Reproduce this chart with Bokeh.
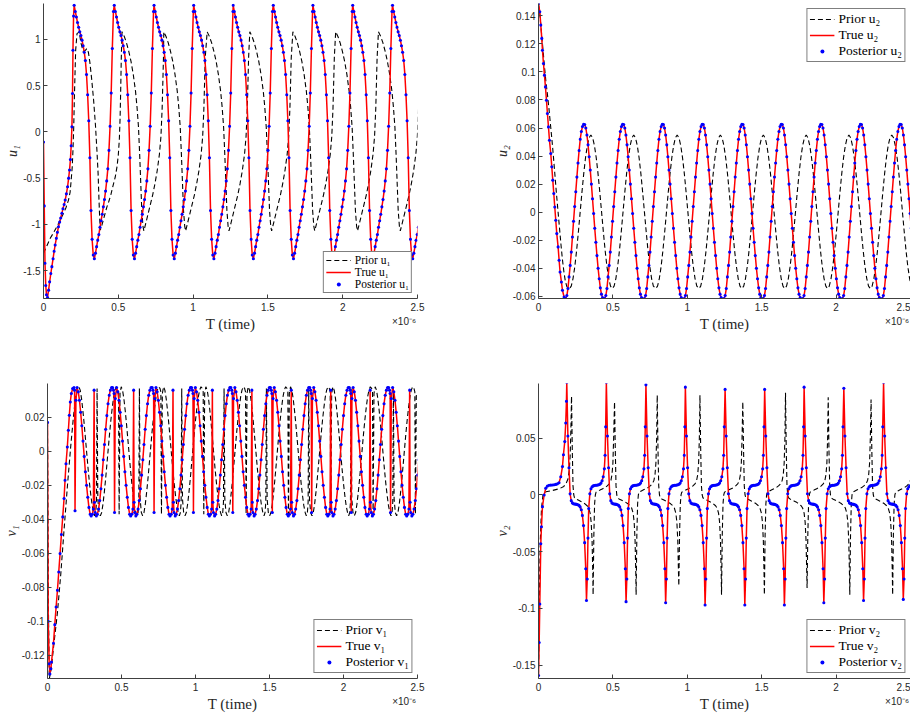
from bokeh.plotting import figure
from bokeh.layouts import column, row
from bokeh.models import FixedTicker, LinearAxis, Range1d
from bokeh.embed import file_html
from bokeh.resources import INLINE

# ---------------- shared axis data ----------------
X_TICKS = [0, 0.5, 1, 1.5, 2, 2.5]
X_TICK_LABELS = ["0", "0.5", "1", "1.5", "2", "2.5"]
X_EXPONENT_TEXT = "×10⁻⁶"

# ---------------- u1 ----------------
u1_true_init_t = [0, 0.005, 0.010, 0.015, 0.020, 0.027, 0.034, 0.041, 0.049, 0.056, 0.064, 0.071, 0.078, 0.086,
                  0.093, 0.100, 0.108, 0.115, 0.123, 0.130, 0.138, 0.145, 0.153, 0.161, 0.168, 0.174, 0.180,
                  0.185, 0.190, 0.194, 0.197, 0.201]
u1_true_init_v = [-0.11, -0.80, -1.42, -1.66, -1.76, -1.79, -1.71, -1.62, -1.53, -1.456, -1.37, -1.29, -1.222,
                  -1.15, -1.085, -1.025, -0.975, -0.93, -0.88, -0.83, -0.785, -0.737, -0.67, -0.593, -0.50,
                  -0.413, -0.30, -0.15, 0.054, 0.414, 0.881, 1.25]
u1_true_cycle_dt = [0.0, 0.0075, 0.015, 0.0225, 0.030, 0.0375, 0.045, 0.0525, 0.060, 0.0675, 0.075, 0.0825,
                    0.090, 0.0975, 0.105, 0.1125, 0.120, 0.1275, 0.135, 0.1425, 0.150, 0.1575, 0.165, 0.1725,
                    0.180, 0.1875, 0.195, 0.2025, 0.210, 0.2175, 0.225, 0.2325, 0.240, 0.2475, 0.255, 0.2625]
u1_true_cycle_v = [1.367, 1.30, 1.24, 1.18, 1.13, 1.08, 1.04, 0.99, 0.93, 0.86, 0.77, 0.62, 0.40, 0.12, -0.28,
                   -0.85, -1.16, -1.33, -1.37, -1.31, -1.24, -1.17, -1.11, -1.03, -0.96, -0.89, -0.81, -0.73,
                   -0.64, -0.53, -0.40, -0.20, 0.06, 0.42, 0.90, 1.30]
u1_true_peaks = [0.205, 0.473, 0.739, 1.004, 1.268, 1.536, 1.801, 2.067, 2.333]

u1_prior_init_t = [0, 0.02, 0.045, 0.067, 0.089, 0.11, 0.134, 0.150, 0.167, 0.178, 0.185, 0.192, 0.197, 0.202,
                   0.206, 0.211, 0.215, 0.224, 0.239, 0.25, 0.265, 0.28, 0.29, 0.30, 0.31, 0.322, 0.335, 0.347,
                   0.357, 0.365, 0.371, 0.376, 0.38, 0.39, 0.40, 0.412, 0.424, 0.437, 0.45, 0.465, 0.48, 0.492,
                   0.50, 0.507, 0.512, 0.516, 0.520]
u1_prior_init_v = [-1.312, -1.24, -1.15, -1.09, -1.025, -0.96, -0.88, -0.82, -0.737, -0.65, -0.521, -0.38,
                   -0.197, 0.05, 0.341, 0.65, 0.881, 1.061, 1.079, 0.96, 0.87, 0.88, 0.90, 0.86, 0.75, 0.57,
                   0.34, 0.08, -0.197, -0.45, -0.737, -0.95, -1.06, -1.01, -0.95, -0.88, -0.81, -0.75, -0.68,
                   -0.58, -0.485, -0.37, -0.25, -0.08, 0.15, 0.45, 0.80]
u1_prior_cycle_dt = [0, 0.015, 0.03, 0.045, 0.06, 0.075, 0.09, 0.10, 0.11, 0.118, 0.125, 0.132, 0.140, 0.146,
                     0.16, 0.175, 0.19, 0.205, 0.22, 0.235, 0.25, 0.26, 0.268, 0.273, 0.277]
u1_prior_cycle_v = [1.08, 1.03, 0.96, 0.87, 0.76, 0.62, 0.44, 0.27, 0.05, -0.25, -0.55, -0.85, -1.02, -1.07,
                    -0.98, -0.88, -0.78, -0.68, -0.56, -0.42, -0.24, -0.05, 0.25, 0.55, 0.80]
u1_prior_peaks = [0.525, 0.804, 1.094, 1.379, 1.667, 1.953, 2.239]

# ---------------- u2 ----------------
u2_true_init_t = [0, 0.0087, 0.0154, 0.022, 0.0266, 0.0333, 0.04, 0.0467, 0.0535, 0.06, 0.067, 0.0736, 0.0825,
                  0.0893, 0.096, 0.1027, 0.1094, 0.116, 0.1228, 0.1318, 0.1385, 0.145, 0.154, 0.161, 0.172]
u2_true_init_v = [0.1488, 0.1429, 0.1334, 0.1239, 0.1155, 0.106, 0.0977, 0.0893, 0.0798, 0.0703, 0.0608,
                  0.0513, 0.0418, 0.0323, 0.0228, 0.0133, 0.0037, -0.0058, -0.0153, -0.0248, -0.0343, -0.0427,
                  -0.0498, -0.0557, -0.0605]
u2_true_cycle_dt = [0.0, 0.0075, 0.015, 0.0225, 0.030, 0.0375, 0.045, 0.0525, 0.060, 0.0675, 0.075, 0.0825,
                    0.090, 0.0975, 0.105, 0.1125, 0.120, 0.1275, 0.135, 0.1425, 0.150, 0.1575, 0.165, 0.1725,
                    0.180, 0.1875, 0.195, 0.2025, 0.210, 0.2175, 0.225, 0.2325, 0.240, 0.2475, 0.255]
u2_true_cycle_v = [-0.0617, -0.0595, -0.0545, -0.0462, -0.0380, -0.0285, -0.0177, -0.0065, 0.0040, 0.0145,
                   0.0250, 0.0350, 0.0440, 0.0520, 0.0575, 0.0610, 0.0627, 0.0625, 0.0600, 0.0550, 0.0480,
                   0.0395, 0.0300, 0.0200, 0.0095, -0.0010, -0.0115, -0.0215, -0.0310, -0.0400, -0.0475,
                   -0.0540, -0.0585, -0.0610, -0.0620]
u2_true_troughs = [0.183, 0.445, 0.712, 0.980, 1.247, 1.511, 1.777, 2.043, 2.310]

u2_prior_init_t = [0, 0.01, 0.02, 0.03, 0.04, 0.05, 0.06, 0.07, 0.08, 0.09, 0.10, 0.11, 0.12, 0.13, 0.14, 0.15,
                   0.16, 0.17, 0.18, 0.19, 0.20]
u2_prior_init_v = [0.148, 0.140, 0.128, 0.116, 0.104, 0.093, 0.084, 0.074, 0.063, 0.052, 0.040, 0.027, 0.014,
                   0.002, -0.010, -0.022, -0.033, -0.042, -0.049, -0.053, -0.0545]
u2_prior_cycle_dt = [0.0, 0.012, 0.024, 0.036, 0.048, 0.060, 0.072, 0.084, 0.096, 0.108, 0.120, 0.132, 0.144,
                     0.156, 0.168, 0.180, 0.192, 0.204, 0.216, 0.228, 0.240, 0.252, 0.264, 0.276]
u2_prior_cycle_v = [-0.0545, -0.0528, -0.0474, -0.0388, -0.0275, -0.0142, 0.0000, 0.0142, 0.0275, 0.0388,
                    0.0474, 0.0530, 0.0550, 0.0530, 0.0474, 0.0388, 0.0275, 0.0142, 0.0000, -0.0142, -0.0275,
                    -0.0388, -0.0474, -0.0528]
u2_prior_troughs = [0.208, 0.496, 0.788, 1.078, 1.367, 1.655, 1.942, 2.230]

# ---------------- v1 ----------------
v1_true_init_t = [0, 0.0047, 0.0114, 0.016, 0.0226, 0.027, 0.0404, 0.0493, 0.0582, 0.0672, 0.076, 0.085, 0.094,
                  0.103, 0.112, 0.1185, 0.125, 0.134, 0.141, 0.1475, 0.154, 0.161, 0.170, 0.179, 0.183, 0.186,
                  0.192]
v1_true_init_v = [0.017, -0.10, -0.125, -0.131, -0.128, -0.124, -0.113, -0.102, -0.0916, -0.0818, -0.071,
                  -0.0602, -0.049, -0.0386, -0.0278, -0.017, -0.0073, 0.0025, 0.0124, 0.0212, 0.029, 0.034,
                  0.0369, 0.0375, 0.036, -0.035, 0.030]
v1_true_cycle_dt = [0, 0.008, 0.016, 0.024, 0.032, 0.040, 0.048, 0.056, 0.064, 0.072, 0.080, 0.088, 0.095,
                    0.103, 0.110, 0.115, 0.118, 0.122, 0.130, 0.137, 0.145, 0.153, 0.161, 0.169, 0.177, 0.185,
                    0.193, 0.201, 0.209, 0.217, 0.225, 0.233, 0.240, 0.246, 0.250, 0.253, 0.258]
v1_true_cycle_v = [0.0375, 0.035, 0.030, 0.023, 0.015, 0.006, -0.003, -0.012, -0.020, -0.027, -0.033, -0.037,
                   -0.038, -0.037, -0.034, 0.036, -0.030, -0.036, -0.038, -0.037, -0.034, -0.029, -0.022,
                   -0.014, -0.005, 0.004, 0.013, 0.021, 0.028, 0.033, 0.036, 0.0375, 0.0375, 0.036, 0.034,
                   -0.036, 0.031]
v1_true_starts = [0.200, 0.467, 0.733, 0.999, 1.266, 1.532, 1.799, 2.065, 2.332]

v1_prior_init_t = [0, 0.006, 0.012, 0.025, 0.045, 0.067, 0.09, 0.112, 0.135, 0.157, 0.175, 0.19, 0.2, 0.207]
v1_prior_init_v = [0.017, -0.09, -0.134, -0.128, -0.112, -0.095, -0.072, -0.046, -0.02, 0.003, 0.02, 0.032,
                   0.037, 0.038]
v1_prior_cycle_dt = [0, 0.009, 0.018, 0.027, 0.036, 0.045, 0.054, 0.063, 0.072, 0.081, 0.090, 0.099, 0.107,
                     0.114, 0.119, 0.123, 0.128, 0.136, 0.145, 0.154, 0.163, 0.172, 0.181, 0.190, 0.199, 0.208,
                     0.217, 0.226, 0.235, 0.244, 0.253, 0.262, 0.268, 0.272, 0.278]
v1_prior_cycle_v = [0.038, 0.036, 0.031, 0.024, 0.016, 0.007, -0.002, -0.011, -0.019, -0.026, -0.032, -0.036,
                    -0.038, -0.036, -0.030, 0.037, -0.028, -0.036, -0.038, -0.036, -0.031, -0.024, -0.016,
                    -0.007, 0.002, 0.011, 0.019, 0.026, 0.032, 0.036, 0.038, 0.037, 0.035, -0.037, 0.034]
v1_prior_starts = [0.212, 0.498, 0.784, 1.070, 1.356, 1.642, 1.928, 2.214]

# ---------------- v2 ----------------
v2_true_init_t = [0, 0.0045, 0.0087, 0.0154, 0.0199, 0.0266, 0.0378, 0.049, 0.06, 0.0714, 0.083, 0.094, 0.105,
                  0.116, 0.127, 0.138, 0.1497, 0.161, 0.1676, 0.1765, 0.183, 0.1877]
v2_true_init_v = [-0.159, -0.13, -0.096, -0.043, -0.028, -0.0103, 0.0, 0.006, 0.0078, 0.0085, 0.0087, 0.0088,
                  0.0090, 0.0093, 0.0098, 0.0108, 0.016, 0.025, 0.0354, 0.047, 0.0634, 0.0826]
v2_true_cycle_dt = [0.000, 0.0075, 0.015, 0.0225, 0.030, 0.0375, 0.045, 0.0525, 0.060, 0.0675, 0.075, 0.0825,
                    0.090, 0.0975, 0.105, 0.1125, 0.120, 0.1275, 0.1325, 0.1375, 0.1425, 0.1475, 0.1550,
                    0.1625, 0.170, 0.1775, 0.185, 0.1925, 0.200, 0.2075, 0.215, 0.2225, 0.230, 0.2375, 0.245,
                    0.2525, 0.2575, 0.2615]
v2_true_cycle_v = [0.097, 0.052, 0.024, 0.001, -0.0050, -0.0070, -0.0078, -0.0080, -0.0081, -0.0083, -0.0086,
                   -0.0092, -0.0105, -0.0130, -0.0180, -0.0270, -0.0420, -0.0650, -0.0950, -0.0740, -0.0380,
                   -0.0120, 0.0010, 0.0055, 0.0072, 0.0080, 0.0083, 0.0085, 0.0086, 0.0088, 0.0090, 0.0095,
                   0.0105, 0.0125, 0.0160, 0.0230, 0.0350, 0.0600]
v2_true_peaks = [0.190, 0.456, 0.722, 0.987, 1.254, 1.520, 1.785, 2.052, 2.319]
v2_true_peak_vals = [0.099, 0.099, 0.097, 0.095, 0.093, 0.093, 0.095, 0.094, 0.099]
v2_true_trough_vals = [-0.093, -0.094, -0.095, -0.097, -0.097, -0.097, -0.095, -0.093, -0.092]

v2_prior_init_t = [0, 0.005, 0.012, 0.02, 0.03, 0.05, 0.08, 0.11, 0.14, 0.17, 0.185, 0.198, 0.207, 0.213, 0.218]
v2_prior_init_v = [-0.159, -0.10, -0.04, -0.012, 0.0, 0.0028, 0.0035, 0.0045, 0.0055, 0.0075, 0.0100, 0.0140,
                   0.022, 0.035, 0.060]
v2_prior_cycle_dt = [0.000, 0.005, 0.010, 0.015, 0.020, 0.030, 0.045, 0.060, 0.075, 0.090, 0.105, 0.115, 0.125,
                     0.132, 0.138, 0.143, 0.145, 0.150, 0.155, 0.160, 0.165, 0.180, 0.195, 0.210, 0.225, 0.240,
                     0.255, 0.265, 0.272, 0.278, 0.283]
v2_prior_cycle_v = [0.087, 0.040, 0.008, 0.000, -0.0025, -0.0035, -0.0045, -0.0055, -0.0065, -0.0078, -0.0095,
                    -0.0115, -0.016, -0.024, -0.040, -0.070, -0.087, -0.035, -0.008, 0.000, 0.0025, 0.0035,
                    0.0045, 0.0055, 0.0065, 0.0080, 0.0100, 0.0130, 0.018, 0.028, 0.050]
v2_prior_peaks = [0.222, 0.511, 0.798, 1.085, 1.373, 1.660, 1.947, 2.235]
v2_prior_peak_vals = [0.087, 0.082, 0.088, 0.088, 0.082, 0.090, 0.086, 0.084]
v2_prior_trough_vals = [-0.088, -0.088, -0.080, -0.088, -0.088, -0.082, -0.088, -0.088]

# ---------------- styling constants ----------------
AXIS_COLOR = "#404040"
TEXT_COLOR = "#262626"
SERIF = "Liberation Serif"
SANS = "Liberation Sans"


def build(init_t, init_v, cyc_dt, cyc_v, starts, replace=None):
    """Concatenate the initial transient with the read cycle placed at each read start time."""
    t = list(init_t)
    v = list(init_v)
    for k, s in enumerate(starts):
        vals = list(cyc_v)
        if replace:
            for idx, per_cycle in replace.items():
                vals[idx] = per_cycle[k]
        for d, val in zip(cyc_dt, vals):
            t.append(s + d)
            v.append(val)
    return t, v


def make_fig(width, height, mbl, mbr, mbt, mbb, yr, yticks, ylabels, ylab):
    p = figure(width=width, height=height, x_range=Range1d(0, 2.5), y_range=Range1d(*yr),
               output_backend="svg", toolbar_location=None,
               min_border_left=mbl, min_border_right=mbr, min_border_top=mbt, min_border_bottom=mbb)
    p.grid.visible = False
    p.outline_line_color = None
    p.background_fill_color = "white"
    p.border_fill_color = "white"
    for ax in (p.xaxis[0], p.yaxis[0]):
        ax.major_tick_in = 4
        ax.major_tick_out = 0
        ax.minor_tick_line_color = None
        ax.axis_line_color = AXIS_COLOR
        ax.major_tick_line_color = AXIS_COLOR
        ax.major_label_text_font = SANS
        ax.major_label_text_font_size = "10px"
        ax.major_label_text_color = TEXT_COLOR
    p.xaxis.ticker = FixedTicker(ticks=X_TICKS)
    p.xaxis.major_label_overrides = dict(zip(X_TICKS, X_TICK_LABELS))
    p.xaxis.major_label_standoff = 4
    p.yaxis.ticker = FixedTicker(ticks=yticks)
    p.yaxis.major_label_overrides = dict(zip(yticks, ylabels))
    p.yaxis.major_label_standoff = 3
    p.yaxis.axis_label = ylab
    p.yaxis.axis_label_text_font = SERIF
    p.yaxis.axis_label_text_color = TEXT_COLOR
    p.yaxis.axis_label_text_font_size = "14px"
    p.yaxis.axis_label_text_font_style = "italic"
    p.yaxis.axis_label_standoff = 0

    # second (line-less) axis under the tick labels: carries the exponent note and the axis title
    note_x = 2.41
    ax2 = LinearAxis(ticker=FixedTicker(ticks=[note_x]),
                     major_label_overrides={note_x: X_EXPONENT_TEXT},
                     axis_line_color=None, major_tick_line_color=None, minor_tick_line_color=None,
                     major_tick_in=0, major_tick_out=0, major_label_standoff=2,
                     major_label_text_font=SANS, major_label_text_font_size="10px",
                     major_label_text_color=TEXT_COLOR,
                     axis_label="T (time)", axis_label_text_font=SERIF,
                     axis_label_text_font_size="15px", axis_label_text_font_style="normal",
                     axis_label_text_color=TEXT_COLOR, axis_label_standoff=-14)
    p.add_layout(ax2, "below")
    return p


def draw(p, prior, true, post, name, loc, font_px, spacing):
    p.line(prior[0], prior[1], line_color="black", line_dash="5 3", line_width=1.1,
           legend_label="Prior " + name)
    p.line(true[0], true[1], line_color="#ff0000", line_width=1.5, legend_label="True " + name)
    p.scatter(post[0], post[1], marker="circle", size=3.1, fill_color="#0000ff", line_color=None,
              legend_label="Posterior " + name)
    lg = p.legend[0]
    lg.location = loc
    lg.margin = 5
    lg.padding = 2
    lg.spacing = spacing
    lg.glyph_width = 25
    lg.glyph_height = 10
    lg.label_height = 10
    lg.label_standoff = 4
    lg.label_text_font = SERIF
    lg.label_text_font_size = font_px
    lg.label_text_line_height = 0.8
    lg.label_text_color = "black"
    lg.border_line_color = "black"
    lg.border_line_width = 1
    lg.background_fill_color = "white"
    lg.background_fill_alpha = 1.0


# ---------------- build series ----------------
u1_true = build(u1_true_init_t, u1_true_init_v, u1_true_cycle_dt, u1_true_cycle_v, u1_true_peaks)
u1_prior = build(u1_prior_init_t, u1_prior_init_v, u1_prior_cycle_dt, u1_prior_cycle_v, u1_prior_peaks)
u2_true = build(u2_true_init_t, u2_true_init_v, u2_true_cycle_dt, u2_true_cycle_v, u2_true_troughs)
u2_prior = build(u2_prior_init_t, u2_prior_init_v, u2_prior_cycle_dt, u2_prior_cycle_v, u2_prior_troughs)
v1_true = build(v1_true_init_t, v1_true_init_v, v1_true_cycle_dt, v1_true_cycle_v, v1_true_starts)
v1_prior = build(v1_prior_init_t, v1_prior_init_v, v1_prior_cycle_dt, v1_prior_cycle_v, v1_prior_starts)
v2_true = build(v2_true_init_t, v2_true_init_v, v2_true_cycle_dt, v2_true_cycle_v, v2_true_peaks,
                replace={0: v2_true_peak_vals, 18: v2_true_trough_vals})
v2_prior = build(v2_prior_init_t, v2_prior_init_v, v2_prior_cycle_dt, v2_prior_cycle_v, v2_prior_peaks,
                 replace={0: v2_prior_peak_vals, 16: v2_prior_trough_vals})

# ---------------- figures ----------------
p1 = make_fig(460, 340, 43, 43, 3, 42, (-1.80, 1.386), [-1.5, -1, -0.5, 0, 0.5, 1],
              ["-1.5", "-1", "-0.5", "0", "0.5", "1"], "u₁")
draw(p1, u1_prior, u1_true, u1_true, "u₁", "bottom_right", "11.5px", -3)

p2 = make_fig(450, 340, 78, 0, 3, 42, (-0.0616, 0.1488),
              [-0.06, -0.04, -0.02, 0, 0.02, 0.04, 0.06, 0.08, 0.1, 0.12, 0.14],
              ["-0.06", "-0.04", "-0.02", "0", "0.02", "0.04", "0.06", "0.08", "0.1", "0.12", "0.14"], "u₂")
draw(p2, u2_prior, u2_true, u2_true, "u₂", "top_right", "13.5px", -3)

p3 = make_fig(460, 375, 43, 43, 43, 37, (-0.1337, 0.0399),
              [-0.12, -0.1, -0.08, -0.06, -0.04, -0.02, 0, 0.02],
              ["-0.12", "-0.1", "-0.08", "-0.06", "-0.04", "-0.02", "0", "0.02"], "v₁")
draw(p3, v1_prior, v1_true, v1_true, "v₁", "bottom_right", "13.5px", -3)

p4 = make_fig(450, 375, 78, 0, 43, 37, (-0.1617, 0.0982),
              [-0.15, -0.1, -0.05, 0, 0.05],
              ["-0.15", "-0.1", "-0.05", "0", "0.05"], "v₂")
draw(p4, v2_prior, v2_true, v2_true, "v₂", "bottom_right", "13.5px", -3)

layout = column(row(p1, p2), row(p3, p4))
open("out.html", "w").write(file_html(layout, INLINE))
